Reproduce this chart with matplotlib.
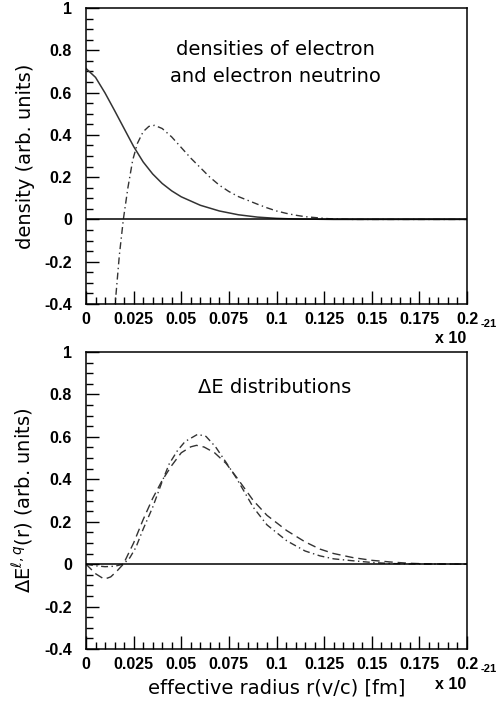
import numpy as np
import matplotlib
matplotlib.use("Agg")
import matplotlib.pyplot as plt
from matplotlib.ticker import MultipleLocator

# - DATA - #
# top panel: electron density (solid) and electron neutrino density (dash-dot)
x_e = [0, 0.005, 0.01, 0.015, 0.02, 0.025, 0.03, 0.035, 0.04, 0.045, 0.05,
       0.06, 0.07, 0.08, 0.09, 0.1, 0.11, 0.12, 0.13, 0.2]
dens_e = [0.714, 0.672, 0.598, 0.515, 0.43, 0.345, 0.272, 0.215, 0.17, 0.135, 0.107,
          0.067, 0.04, 0.022, 0.011, 0.005, 0.002, 0.001, 0.0, 0.0]

x_nu = [0.014, 0.0155, 0.0175, 0.0196, 0.022, 0.0245, 0.027, 0.03, 0.033, 0.036,
        0.04, 0.045, 0.05, 0.055, 0.06, 0.065, 0.07, 0.075, 0.08, 0.085, 0.09,
        0.095, 0.1, 0.105, 0.11, 0.115, 0.12, 0.125, 0.13, 0.14, 0.2]
dens_nu = [-0.5, -0.38, -0.17, 0.0, 0.15, 0.28, 0.36, 0.415, 0.44, 0.445,
           0.43, 0.39, 0.34, 0.29, 0.245, 0.2, 0.162, 0.132, 0.108, 0.09, 0.072,
           0.055, 0.04, 0.029, 0.02, 0.013, 0.009, 0.005, 0.002, 0.0, 0.0]

# bottom panel: Delta E distributions
x_d1 = [0, 0.005, 0.0096, 0.013, 0.0165, 0.0196, 0.025, 0.03, 0.035, 0.04, 0.045,
        0.05, 0.055, 0.058, 0.062, 0.0675, 0.0735, 0.079, 0.0878, 0.095, 0.1054,
        0.115, 0.1228, 0.13, 0.14, 0.15, 0.16, 0.17, 0.18, 0.2]
de_dash = [0, -0.045, -0.071, -0.06, -0.03, 0.0, 0.1, 0.21, 0.31, 0.395, 0.465,
           0.525, 0.553, 0.56, 0.552, 0.525, 0.475, 0.41, 0.30, 0.23, 0.158,
           0.105, 0.071, 0.05, 0.031, 0.018, 0.01, 0.004, 0.001, 0.0]

x_d2 = [0, 0.005, 0.01, 0.015, 0.0196, 0.023, 0.0262, 0.03, 0.035, 0.04, 0.0437,
        0.048, 0.052, 0.0586, 0.063, 0.068, 0.0735, 0.079, 0.0878, 0.095, 0.1054,
        0.115, 0.1228, 0.13, 0.14, 0.15, 0.16, 0.17, 0.2]
de_dashdot = [0, -0.008, -0.012, -0.01, 0.0, 0.03, 0.079, 0.165, 0.268, 0.39, 0.473,
              0.535, 0.578, 0.612, 0.602, 0.553, 0.48, 0.405, 0.268, 0.185, 0.11,
              0.062, 0.039, 0.025, 0.016, 0.008, 0.003, 0.001, 0.0]

xticks = [0, 0.025, 0.05, 0.075, 0.1, 0.125, 0.15, 0.175, 0.2]
xticklabels = ["0", "0.025", "0.05", "0.075", "0.1", "0.125", "0.15", "0.175", "0.2"]
yticks = [-0.4, -0.2, 0, 0.2, 0.4, 0.6, 0.8, 1]
yticklabels = ["-0.4", "-0.2", "0", "0.2", "0.4", "0.6", "0.8", "1"]

W, H = 496, 706
fig = plt.figure(figsize=(W / 100, H / 100), dpi=100)

tickfont = dict(family="Liberation Sans", weight="bold", size=11.5)
labelfont = dict(family="DejaVu Sans", size=14)
curve = "#333333"


def style(ax):
    ax.set_xlim(0, 0.2)
    ax.set_ylim(-0.4, 1)
    ax.set_xticks(xticks)
    ax.set_xticklabels(xticklabels, **tickfont)
    ax.set_yticks(yticks)
    ax.set_yticklabels(yticklabels, **tickfont)
    ax.xaxis.set_minor_locator(MultipleLocator(0.005))
    ax.yaxis.set_minor_locator(MultipleLocator(0.05))
    ax.tick_params(which="both", direction="in", top=False, right=False, width=1)
    ax.tick_params(which="major", length=9.4, pad=5.5)
    ax.tick_params(which="minor", length=5)
    ax.tick_params(axis="y", which="major", pad=10)
    for s in ax.spines.values():
        s.set_linewidth(1.1)
    ax.axhline(0, color="black", lw=1.1)
    # ROOT-style multiplier at right end
    ax.text(0.958, -0.118, "x 10", transform=ax.transAxes, ha="center", va="center",
            **tickfont)
    ax.text(1.037, -0.068, "-21", transform=ax.transAxes, ha="left", va="center",
            family="Liberation Sans", weight="bold", size=8, clip_on=False)


# top panel
ax1 = fig.add_axes([86 / W, 1 - 304 / H, 381 / W, 296 / H])
ax1.plot(x_e, dens_e, color=curve, lw=1.1, ls="-")
ax1.plot(x_nu, dens_nu, color=curve, lw=1.0, ls=(0, (5, 2.5, 1, 2.5)))
style(ax1)
ax1.set_ylabel("density (arb. units)", **labelfont)
ax1.yaxis.set_label_coords(-0.134, 0.5)
ax1.text(0.496, 0.815, "densities of electron\nand electron neutrino", transform=ax1.transAxes,
         ha="center", va="center", linespacing=1.5, family="DejaVu Sans", size=14)

# bottom panel
ax2 = fig.add_axes([86 / W, 1 - 649 / H, 381 / W, 297 / H])
ax2.plot(x_d1, de_dash, color=curve, lw=1.0, ls=(0, (6, 3.5)))
ax2.plot(x_d2, de_dashdot, color=curve, lw=1.0, ls=(0, (5, 2.5, 1, 2.5)))
style(ax2)
ax2.set_ylabel(r"$\Delta$E$^{\ell,q}$(r) (arb. units)", **labelfont)
ax2.yaxis.set_label_coords(-0.134, 0.5)
ax2.set_xlabel("effective radius r(v/c) [fm]", labelpad=5, **labelfont)
ax2.text(0.496, 0.879, "\u0394E distributions", transform=ax2.transAxes,
         ha="center", va="center", family="DejaVu Sans", size=14)

fig.savefig("out.png", dpi=100)
